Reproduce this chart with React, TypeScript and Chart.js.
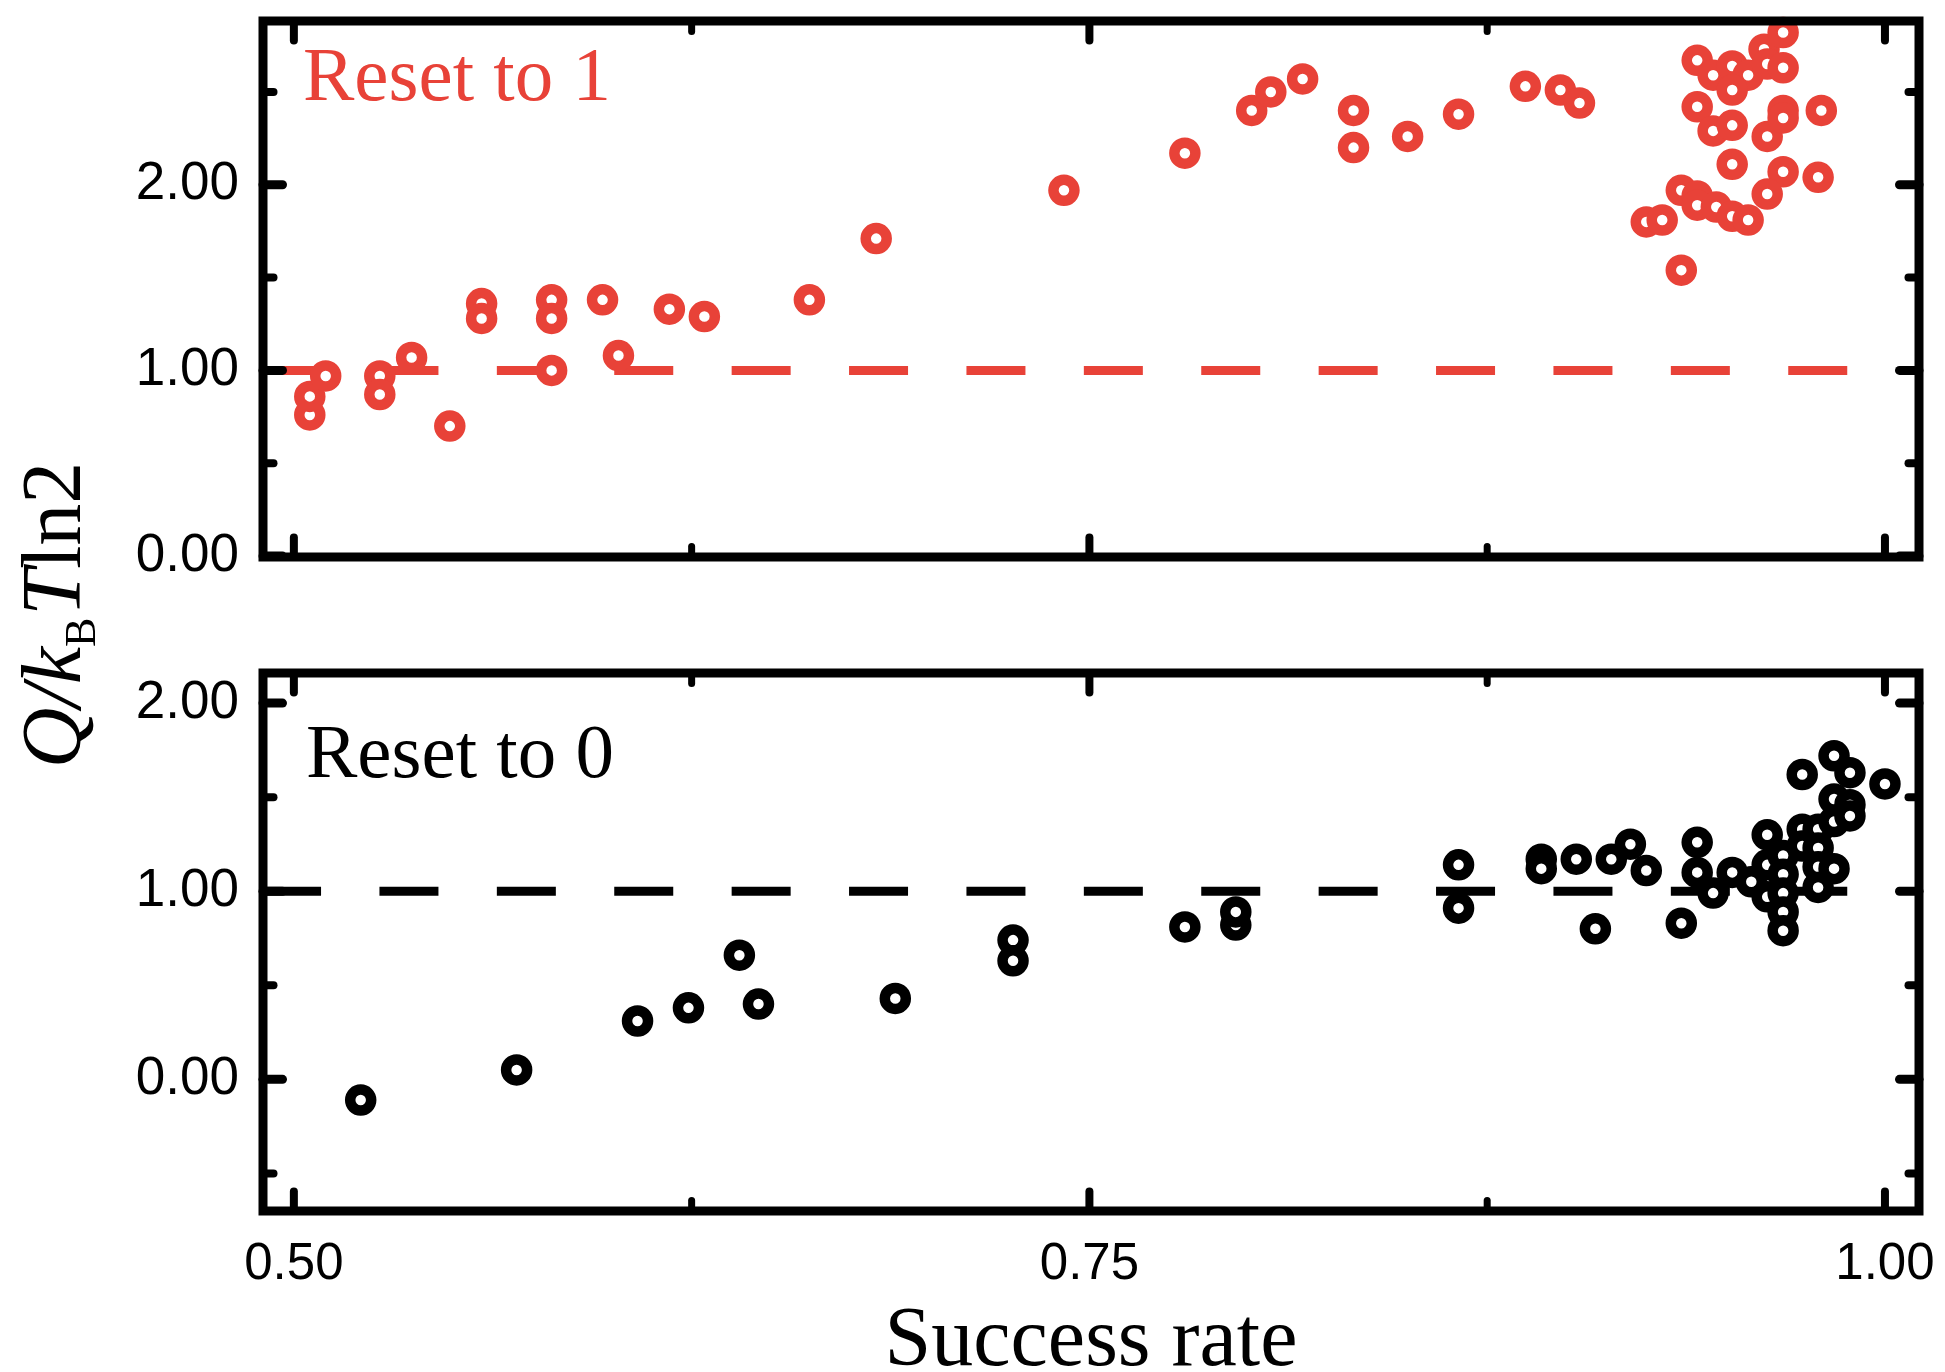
import React, { useEffect, useRef } from 'react';
import { Chart, registerables } from 'chart.js';

Chart.register(...registerables);

// ---------- axes ----------
const xRange = [0.4903, 1.0107];
const xTicks = [0.5, 0.75, 1.0];
const xMinorTicks = [0.625, 0.875];

const topYRange = [-0.005, 2.882];
const topYTicks = [0, 1, 2];
const topYMinorTicks = [0.5, 1.5, 2.5];

const bottomYRange = [-0.7, 2.16];
const bottomYTicks = [0, 1, 2];
const bottomYMinorTicks = [-0.5, 0.5, 1.5];

// ---------- reference (Landauer) line ----------
const refLineX = [0.49, 1.0];
const refLineY = [1, 1];

// ---------- data: Reset to 1 ----------
const reset1X = [
  0.505, 0.505, 0.510, 0.527, 0.527, 0.537, 0.549, 0.559, 0.559, 0.581,
  0.581, 0.581, 0.597, 0.602, 0.618, 0.629, 0.662, 0.683, 0.742, 0.780,
  0.801, 0.807, 0.817, 0.833, 0.833, 0.850, 0.866, 0.887, 0.898, 0.904,
  0.941, 0.946, 0.952, 0.957, 0.962, 0.963, 0.968, 0.968, 0.952, 0.941,
  0.946, 0.952, 0.963, 0.968, 0.968, 0.980, 0.952, 0.968, 0.979, 0.963,
  0.936, 0.941, 0.941, 0.947, 0.952, 0.957, 0.925, 0.930, 0.936,
];
const reset1Y = [
  0.76, 0.86, 0.97, 0.97, 0.87, 1.07, 0.70, 1.36, 1.28, 1.38,
  1.28, 1.00, 1.38, 1.08, 1.33, 1.29, 1.38, 1.71, 1.97, 2.17,
  2.40, 2.50, 2.57, 2.40, 2.20, 2.26, 2.38, 2.53, 2.51, 2.44,
  2.67, 2.59, 2.64, 2.59, 2.73, 2.65, 2.82, 2.63, 2.51, 2.42,
  2.29, 2.32, 2.26, 2.40, 2.36, 2.40, 2.11, 2.07, 2.04, 1.95,
  1.97, 1.94, 1.89, 1.88, 1.83, 1.81, 1.80, 1.81, 1.54,
];

// ---------- data: Reset to 0 ----------
const reset0X = [
  0.521, 0.570, 0.608, 0.624, 0.640, 0.646, 0.689, 0.726, 0.726, 0.780,
  0.796, 0.796, 0.866, 0.866, 0.892, 0.892, 0.903, 0.909, 0.914, 0.920,
  0.925, 0.936, 0.941, 0.941, 0.946, 0.952, 0.958, 0.963, 0.963, 0.963,
  0.968, 0.968, 0.968, 0.968, 0.968, 0.974, 0.974, 0.974, 0.979, 0.979,
  0.979, 0.979, 0.984, 0.984, 0.984, 0.984, 0.989, 0.989, 0.989, 1.000,
];
const reset0Y = [
  -0.11, 0.05, 0.31, 0.38, 0.66, 0.40, 0.43, 0.74, 0.63, 0.81,
  0.82, 0.89, 1.14, 0.91, 1.17, 1.12, 1.17, 0.80, 1.17, 1.25,
  1.11, 0.83, 1.26, 1.10, 0.99, 1.10, 1.05, 1.30, 1.14, 0.97,
  1.19, 1.09, 0.99, 0.89, 0.79, 1.62, 1.33, 1.24, 1.33, 1.23,
  1.13, 1.02, 1.72, 1.49, 1.37, 1.12, 1.63, 1.46, 1.40, 1.57,
];

const RED = 'rgb(232,66,56)';
const BLACK = '#000000';
const W = 1945;
const H = 1372;

const toPoints = (xs: number[], ys: number[]) => xs.map((x, i) => ({ x, y: ys[i] }));

const framePlugin = {
  id: 'frameTicks',
  afterDatasetsDraw(chart: any, _args: any, opts: any) {
    const { ctx, chartArea: a, scales } = chart;
    const xs = scales.x;
    const ys = scales.y;
    ctx.save();
    ctx.strokeStyle = '#000';
    ctx.lineWidth = 9;
    ctx.lineJoin = 'miter';
    ctx.strokeRect(a.left, a.top, a.right - a.left, a.bottom - a.top);
    ctx.lineCap = 'round';
    const seg = (x1: number, y1: number, x2: number, y2: number, w: number) => {
      ctx.lineWidth = w;
      ctx.beginPath();
      ctx.moveTo(x1, y1);
      ctx.lineTo(x2, y2);
      ctx.stroke();
    };
    const major = 19.5;
    const minor = 10.5;
    (opts.yMajor || []).forEach((v: number) => {
      const y = ys.getPixelForValue(v);
      seg(a.left, y, a.left + major, y, 9);
      seg(a.right, y, a.right - major, y, 9);
    });
    (opts.yMinor || []).forEach((v: number) => {
      const y = ys.getPixelForValue(v);
      seg(a.left, y, a.left + minor, y, 8);
      seg(a.right, y, a.right - minor, y, 8);
    });
    (opts.xMajor || []).forEach((v: number) => {
      const x = xs.getPixelForValue(v);
      seg(x, a.top, x, a.top + major, 8);
      seg(x, a.bottom, x, a.bottom - major, 8);
    });
    (opts.xMinor || []).forEach((v: number) => {
      const x = xs.getPixelForValue(v);
      seg(x, a.top, x, a.top + minor, 7);
      seg(x, a.bottom, x, a.bottom - minor, 7);
    });
    ctx.restore();
  },
  afterDraw(chart: any, _args: any, opts: any) {
    const { ctx } = chart;
    ctx.save();
    (opts.texts || []).forEach((t: any) => {
      ctx.font = t.font;
      ctx.fillStyle = t.color;
      ctx.textAlign = t.align || 'left';
      ctx.textBaseline = 'alphabetic';
      ctx.fillText(t.text, t.x, t.y);
    });
    if (opts.yTitle) {
      const { x, y, parts } = opts.yTitle;
      ctx.translate(x, y);
      ctx.rotate(-Math.PI / 2);
      ctx.fillStyle = '#000';
      ctx.textAlign = 'left';
      ctx.textBaseline = 'alphabetic';
      let total = 0;
      const widths = parts.map((p: any) => {
        ctx.font = p.font;
        const w = ctx.measureText(p.text).width + (p.gap || 0);
        total += w;
        return w;
      });
      let cx = -total / 2;
      parts.forEach((p: any, i: number) => {
        ctx.font = p.font;
        ctx.fillText(p.text, cx, p.dy || 0);
        cx += widths[i];
      });
    }
    ctx.restore();
  },
};

const fixX = (s: any, height: number) => {
  s.height = height;
  s.paddingLeft = 0;
  s.paddingRight = 0;
  s.paddingTop = 0;
  s.paddingBottom = 0;
};
const fixY = (s: any) => {
  s.width = 263;
  s.paddingLeft = 0;
  s.paddingRight = 0;
  s.paddingTop = 0;
  s.paddingBottom = 0;
};

function makeConfig(kind: 'top' | 'bottom'): any {
  const isTop = kind === 'top';
  const color = isTop ? RED : BLACK;
  const xs = isTop ? reset1X : reset0X;
  const ys = isTop ? reset1Y : reset0Y;
  const yRange = isTop ? topYRange : bottomYRange;
  const yTicks = isTop ? topYTicks : bottomYTicks;
  const yMinor = isTop ? topYMinorTicks : bottomYMinorTicks;
  const serif = '"Liberation Serif", "Times New Roman", serif';
  const texts = isTop
    ? [{ text: 'Reset to 1', x: 303, y: 100, font: `77px ${serif}`, color: RED }]
    : [
        { text: 'Reset to 0', x: 306, y: 777, font: `77px ${serif}`, color: BLACK },
        { text: 'Success rate', x: 1091, y: 1365, font: `84px ${serif}`, color: BLACK, align: 'center' },
      ];
  const yTitle = isTop
    ? null
    : {
        x: 80,
        y: 615,
        parts: [
          { text: 'Q', font: `italic 84px ${serif}` },
          { text: '/', font: `italic 84px ${serif}` },
          { text: 'k', font: `italic 84px ${serif}` },
          { text: 'B', font: `44px ${serif}`, dy: 15, gap: 2 },
          { text: 'T', font: `italic 84px ${serif}` },
          { text: 'ln2', font: `84px ${serif}` },
        ],
      };
  return {
    type: 'scatter',
    data: {
      datasets: [
        {
          label: isTop ? 'Reset to 1' : 'Reset to 0',
          data: toPoints(xs, ys),
          pointStyle: 'circle',
          pointRadius: 10.5,
          pointBorderWidth: 10.5,
          borderColor: color,
          backgroundColor: '#ffffff',
          pointBackgroundColor: '#ffffff',
          pointBorderColor: color,
          showLine: false,
          clip: false,
        },
        {
          label: 'Q = kT ln2',
          data: toPoints(refLineX, refLineY),
          showLine: true,
          pointRadius: 0,
          borderColor: color,
          borderWidth: 9,
          borderDash: [59, 58.4],
          borderCapStyle: 'butt',
          fill: false,
        },
      ],
    },
    options: {
      responsive: false,
      animation: false,
      devicePixelRatio: 1,
      events: [],
      layout: {
        padding: isTop
          ? { left: 0, right: 26, top: 17, bottom: H - 557 }
          : { left: 0, right: 26, top: 673, bottom: 0 },
      },
      plugins: {
        legend: { display: false },
        tooltip: { enabled: false },
        title: { display: false },
        frameTicks: {
          yMajor: yTicks,
          yMinor: yMinor,
          xMajor: xTicks,
          xMinor: xMinorTicks,
          texts,
          yTitle,
        },
      },
      scales: {
        x: {
          type: 'linear',
          display: !isTop,
          min: xRange[0],
          max: xRange[1],
          grid: { display: false },
          border: { display: false },
          afterBuildTicks: (s: any) => {
            s.ticks = xTicks.map((v) => ({ value: v }));
          },
          afterFit: (s: any) => fixX(s, isTop ? 0 : H - 1211),
          ticks: {
            padding: 15,
            maxRotation: 0,
            autoSkip: false,
            color: '#000',
            font: { family: '"Liberation Sans", Arial, sans-serif', size: 51 },
            callback: (v: any) => Number(v).toFixed(2),
          },
        },
        y: {
          type: 'linear',
          min: yRange[0],
          max: yRange[1],
          grid: { display: false },
          border: { display: false },
          afterBuildTicks: (s: any) => {
            s.ticks = yTicks.map((v) => ({ value: v }));
          },
          afterFit: (s: any) => fixY(s),
          ticks: {
            padding: 16,
            autoSkip: false,
            color: '#000',
            font: { family: '"Liberation Sans", Arial, sans-serif', size: 53 },
            callback: (v: any) => Number(v).toFixed(2),
          },
        },
      },
    },
    plugins: [framePlugin],
  };
}

export default function App() {
  const topRef = useRef<HTMLCanvasElement | null>(null);
  const bottomRef = useRef<HTMLCanvasElement | null>(null);

  useEffect(() => {
    const charts: Chart[] = [];
    if (topRef.current) charts.push(new Chart(topRef.current, makeConfig('top')));
    if (bottomRef.current) charts.push(new Chart(bottomRef.current, makeConfig('bottom')));
    return () => charts.forEach((c) => c.destroy());
  }, []);

  const canvasStyle: React.CSSProperties = {
    position: 'absolute',
    left: 0,
    top: 0,
    width: W,
    height: H,
    display: 'block',
  };

  return (
    <div
      style={{
        position: 'absolute',
        left: 0,
        top: 0,
        width: W,
        height: H,
        background: '#ffffff',
        overflow: 'hidden',
      }}
    >
      <canvas ref={topRef} width={W} height={H} style={canvasStyle} />
      <canvas ref={bottomRef} width={W} height={H} style={canvasStyle} />
    </div>
  );
}
